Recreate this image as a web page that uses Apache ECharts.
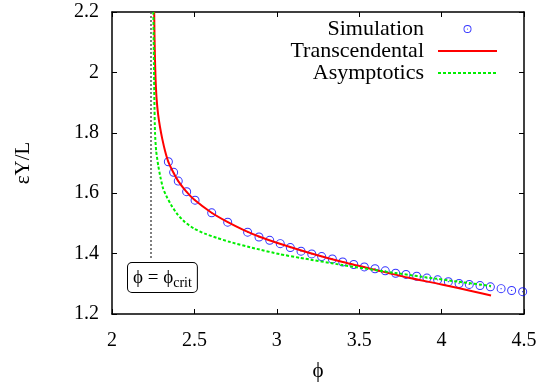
<!DOCTYPE html>
<html>
<head>
<meta charset="utf-8">
<script src="https://cdn.jsdelivr.net/npm/echarts@6/dist/echarts.min.js"></script>
<style>html,body{margin:0;padding:0;background:#fff}#c{width:552px;height:387px}</style>
</head>
<body>
<div id="c"></div>
<script>
const xTicks = [2, 2.5, 3, 3.5, 4, 4.5];
const yTicks = [1.2, 1.4, 1.6, 1.8, 2, 2.2];
const phiCrit = 2.236;

const simX = [2.342,2.374,2.402,2.453,2.504,2.605,2.702,2.823,2.892,2.957,3.021,3.082,3.147,3.212,3.272,3.337,3.400,3.467,3.531,3.596,3.658,3.721,3.784,3.849,3.911,3.976,4.041,4.106,4.168,4.233,4.296,4.361,4.425,4.492];
const simY = [1.704,1.669,1.640,1.605,1.577,1.535,1.504,1.471,1.455,1.444,1.433,1.420,1.408,1.399,1.390,1.382,1.372,1.364,1.356,1.350,1.343,1.335,1.331,1.325,1.319,1.313,1.307,1.301,1.298,1.294,1.290,1.284,1.278,1.274];

const transX = [2.256,2.258,2.261,2.265,2.271,2.280,2.291,2.305,2.322,2.342,2.374,2.402,2.45,2.50,2.60,2.70,2.80,2.90,3.00,3.20,3.40,3.60,3.80,4.00,4.20,4.30];
const transY = [2.20,2.12,2.04,1.97,1.91,1.86,1.82,1.78,1.74,1.704,1.667,1.640,1.606,1.578,1.537,1.505,1.478,1.455,1.436,1.402,1.372,1.346,1.320,1.298,1.274,1.261];

const asymX = [2.251,2.253,2.255,2.257,2.261,2.268,2.281,2.295,2.311,2.335,2.362,2.40,2.443,2.50,2.564,2.636,2.706,2.868,3.019,3.141,3.40,3.65,3.90,4.10,4.30];
const asymY = [2.20,2.10,2.00,1.91,1.80,1.74,1.69,1.65,1.614,1.585,1.558,1.528,1.504,1.482,1.466,1.452,1.440,1.417,1.398,1.386,1.362,1.341,1.322,1.307,1.293];

const zip = (a, b) => a.map((v, i) => [v, b[i]]);
const FONT = 'Liberation Serif';
const ringPath = 'path://M0,-10A10,10,0,1,1,0,10A10,10,0,1,1,0,-10ZM0,-7.8A7.8,7.8,0,1,0,0,7.8A7.8,7.8,0,1,0,0,-7.8ZM0,-1.5A1.5,1.5,0,1,1,0,1.5A1.5,1.5,0,1,1,0,-1.5Z';

const chart = echarts.init(document.getElementById('c'), null, {renderer: 'canvas'});
const axisCommon = {
  axisLine: {show: true, onZero: false, lineStyle: {color: '#000', width: 1.5}},
  axisTick: {show: true, inside: true, length: 5, lineStyle: {color: '#000', width: 1}},
  splitLine: {show: false}
};
const noSym = {color: 'transparent', borderWidth: 0, borderColor: 'transparent'};
chart.setOption({
  animation: false,
  backgroundColor: '#fff',
  grid: {left: 112, right: 28, top: 12, bottom: 72},
  legend: {
    orient: 'vertical', align: 'right', right: 54, top: 18, padding: 0,
    itemWidth: 59, itemHeight: 8, itemGap: 0,
    data: [
      {name: 'Simulation'},
      {name: 'Transcendental', itemStyle: noSym},
      {name: 'Asymptotics', itemStyle: noSym}
    ],
    textStyle: {fontFamily: FONT, fontSize: 22, color: '#000', lineHeight: 21.5, padding: [0, 9, 0, 0]}
  },
  xAxis: [
    Object.assign({type: 'value', min: xTicks[0], max: xTicks[xTicks.length - 1], interval: 0.5, position: 'bottom',
      name: 'ϕ', nameLocation: 'middle', nameGap: 47,
      nameTextStyle: {fontFamily: FONT, fontSize: 21, color: '#000'},
      axisLabel: {margin: 17, fontFamily: FONT, fontSize: 20, color: '#000'}}, axisCommon),
    Object.assign({type: 'value', min: xTicks[0], max: xTicks[xTicks.length - 1], interval: 0.5, position: 'top',
      axisLabel: {show: false}}, axisCommon)
  ],
  yAxis: [
    Object.assign({type: 'value', min: yTicks[0], max: yTicks[yTicks.length - 1], interval: 0.2, position: 'left',
      name: 'εY/L', nameLocation: 'middle', nameGap: 78,
      nameTextStyle: {fontFamily: FONT, fontSize: 21, color: '#000'},
      axisLabel: {margin: 13, fontFamily: FONT, fontSize: 20, color: '#000',
        formatter: v => String(Math.round(v * 10) / 10)}}, axisCommon),
    Object.assign({type: 'value', min: yTicks[0], max: yTicks[yTicks.length - 1], interval: 0.2, position: 'right',
      axisLabel: {show: false}}, axisCommon)
  ],
  series: [
    {
      name: 'Simulation', type: 'scatter', data: zip(simX, simY),
      symbol: ringPath, symbolSize: 9,
      itemStyle: {color: '#0000ff'}, z: 2
    },
    {
      name: 'Transcendental', type: 'line', data: zip(transX, transY),
      symbol: 'none', smooth: 0.2, lineStyle: {color: '#ff0000', width: 2}, itemStyle: {color: '#ff0000'}, z: 3,
      markLine: {
        silent: true, symbol: 'none', label: {show: false},
        lineStyle: {color: '#555', type: [2, 2], width: 1.5},
        data: [[{coord: [phiCrit, 2.2]}, {coord: [phiCrit, 1.383]}]]
      }
    },
    {
      name: 'Asymptotics', type: 'line', data: zip(asymX, asymY),
      symbol: 'none', smooth: 0.2, lineStyle: {color: '#00ee00', width: 2, type: [3, 2]}, itemStyle: {color: '#00ee00'}, z: 4
    }
  ],
  graphic: [{
    type: 'text', left: 127, top: 262, z: 100,
    style: {
      text: '{a|ϕ = ϕ}{b|crit}',
      backgroundColor: '#fff', borderColor: '#000', borderWidth: 1, borderRadius: 4,
      padding: [3, 5, 2, 5],
      rich: {
        a: {fontFamily: FONT, fontSize: 19, color: '#000', lineHeight: 24, verticalAlign: 'middle'},
        b: {fontFamily: FONT, fontSize: 14, color: '#000', lineHeight: 14, verticalAlign: 'bottom'}
      }
    }
  }]
});
</script>
</body>
</html>
